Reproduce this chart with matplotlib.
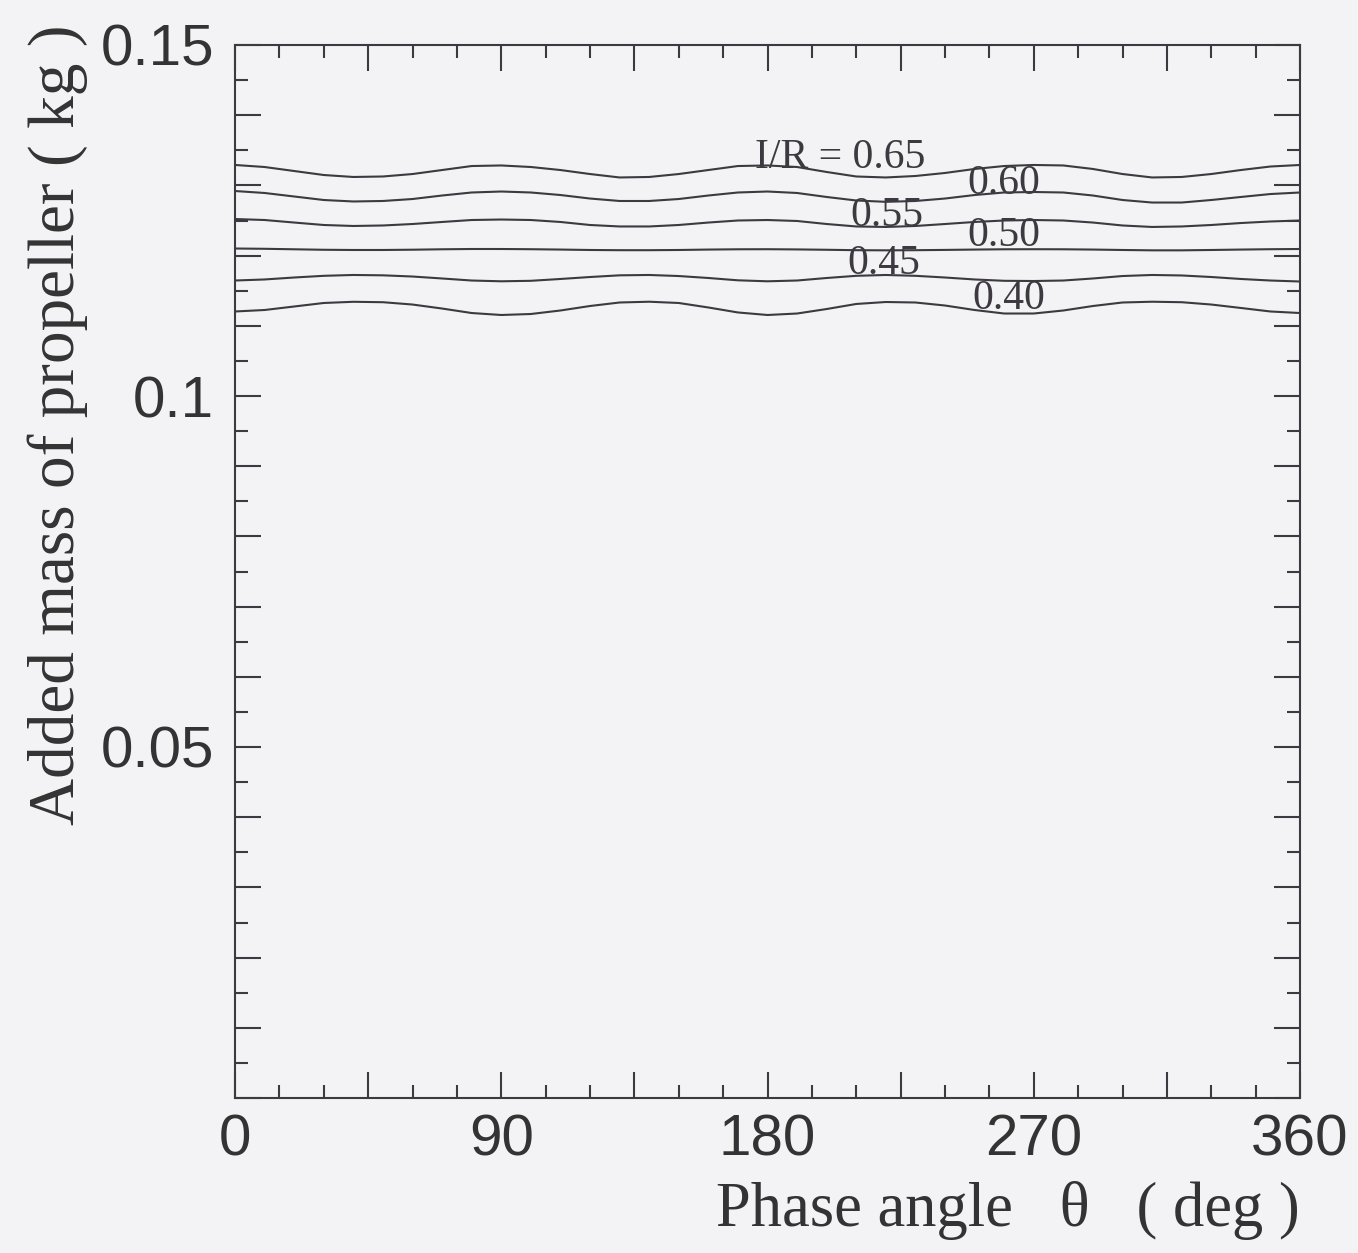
import matplotlib
matplotlib.use("Agg")
import matplotlib.pyplot as plt
from matplotlib.ticker import FixedLocator, FixedFormatter

# Phase angle (deg), sampled every 10 deg
theta = list(range(0, 361, 10))

# Added mass of propeller (kg) for each radial position I/R
mass_065 = [0.13291, 0.13262, 0.13205, 0.13148, 0.13120, 0.13127, 0.13162, 0.13219, 0.13276, 0.13284,
            0.13262, 0.13219, 0.13162, 0.13113, 0.13120, 0.13162, 0.13219, 0.13276, 0.13284, 0.13262,
            0.13191, 0.13127, 0.13113, 0.13134, 0.13177, 0.13234, 0.13276, 0.13291, 0.13284, 0.13234,
            0.13162, 0.13113, 0.13120, 0.13162, 0.13219, 0.13269, 0.13291]
mass_060 = [0.12920, 0.12892, 0.12842, 0.12792, 0.12771, 0.12778, 0.12806, 0.12856, 0.12899, 0.12913,
            0.12899, 0.12863, 0.12813, 0.12778, 0.12778, 0.12806, 0.12856, 0.12899, 0.12913, 0.12892,
            0.12835, 0.12785, 0.12766, 0.12778, 0.12813, 0.12863, 0.12899, 0.12906, 0.12899, 0.12856,
            0.12792, 0.12756, 0.12756, 0.12792, 0.12835, 0.12877, 0.12899]
mass_055 = [0.12521, 0.12507, 0.12471, 0.12436, 0.12422, 0.12429, 0.12450, 0.12479, 0.12507, 0.12514,
            0.12507, 0.12479, 0.12436, 0.12415, 0.12415, 0.12436, 0.12471, 0.12500, 0.12507, 0.12493,
            0.12450, 0.12415, 0.12408, 0.12422, 0.12450, 0.12479, 0.12500, 0.12507, 0.12500, 0.12471,
            0.12429, 0.12408, 0.12415, 0.12436, 0.12464, 0.12486, 0.12500]
mass_050 = [0.12101, 0.12097, 0.12090, 0.12083, 0.12080, 0.12080, 0.12084, 0.12090, 0.12094, 0.12094,
            0.12091, 0.12086, 0.12080, 0.12077, 0.12077, 0.12080, 0.12086, 0.12090, 0.12091, 0.12088,
            0.12083, 0.12077, 0.12075, 0.12077, 0.12081, 0.12086, 0.12090, 0.12091, 0.12090, 0.12086,
            0.12080, 0.12075, 0.12075, 0.12080, 0.12086, 0.12091, 0.12094]
mass_045 = [0.11645, 0.11660, 0.11688, 0.11712, 0.11724, 0.11719, 0.11702, 0.11674, 0.11645, 0.11634,
            0.11641, 0.11667, 0.11695, 0.11719, 0.11724, 0.11709, 0.11681, 0.11648, 0.11634, 0.11645,
            0.11681, 0.11712, 0.11724, 0.11712, 0.11688, 0.11660, 0.11641, 0.11638, 0.11645, 0.11674,
            0.11709, 0.11724, 0.11717, 0.11695, 0.11667, 0.11645, 0.11631]
mass_040 = [0.11204, 0.11225, 0.11275, 0.11325, 0.11342, 0.11336, 0.11303, 0.11246, 0.11182, 0.11154,
            0.11168, 0.11218, 0.11282, 0.11332, 0.11343, 0.11325, 0.11261, 0.11190, 0.11154, 0.11175,
            0.11239, 0.11311, 0.11339, 0.11332, 0.11289, 0.11225, 0.11175, 0.11175, 0.11218, 0.11282,
            0.11332, 0.11343, 0.11336, 0.11303, 0.11254, 0.11204, 0.11182]

series = [mass_065, mass_060, mass_055, mass_050, mass_045, mass_040]

# Curve annotations: text, phase angle, mass
curve_labels = ["I/R = 0.65", "0.60", "0.55", "0.50", "0.45", "0.40"]
label_theta = [175.8, 247.5, 207.9, 247.5, 206.9, 249.2]
label_mass = [0.1339, 0.1302, 0.12564, 0.12279, 0.1188, 0.11382]

x_major = [0, 45, 90, 135, 180, 225, 270, 315, 360]
x_tick_labels = ["0", "", "90", "", "180", "", "270", "", "360"]
x_minor = list(range(0, 361, 15))
y_tick_values = [0.05, 0.1, 0.15]
y_tick_labels = ["0.05", "0.1", "0.15"]

bg = "#f3f2f4"
ink = "#3c3a40"
serif = "Liberation Serif"
sans = "Liberation Sans"

fig = plt.figure(figsize=(13.58, 12.53), dpi=100, facecolor=bg)
ax = fig.add_axes([235 / 1358, 1 - 1098 / 1253, 1065 / 1358, 1053 / 1253])
ax.set_facecolor(bg)

for ys in series:
    ax.plot(theta, ys, color=ink, lw=1.5, solid_joinstyle="round")

for txt, tx, ty in zip(curve_labels, label_theta, label_mass):
    ax.text(tx, ty, txt, family=serif, fontsize=30, color=ink, ha="left", va="center")

ax.set_xlim(0, 360)
ax.set_ylim(0, 0.15)

ax.xaxis.set_major_locator(FixedLocator(x_major))
ax.xaxis.set_major_formatter(FixedFormatter(x_tick_labels))
ax.xaxis.set_minor_locator(FixedLocator(x_minor))

# y major ticks every 0.01 (labels only at 0.05 / 0.1 / 0.15), minor every 0.005
y_major = [round(0.01 * i, 2) for i in range(16)]
y_minor = [round(0.005 * i, 3) for i in range(31)]
ax.yaxis.set_major_locator(FixedLocator(y_major))
ax.yaxis.set_major_formatter(FixedFormatter(
    [y_tick_labels[y_tick_values.index(v)] if v in y_tick_values else "" for v in y_major]))
ax.yaxis.set_minor_locator(FixedLocator(y_minor))

ax.tick_params(which="both", direction="in", top=True, right=True, color=ink, width=1.5)
ax.tick_params(which="major", length=19, labelsize=42, labelcolor="#333333")
ax.tick_params(axis="y", which="major", pad=15)
ax.tick_params(axis="x", which="major", pad=11)
ax.tick_params(which="minor", length=9.5)
for lab in ax.get_xticklabels() + ax.get_yticklabels():
    lab.set_fontfamily(sans)

for sp in ax.spines.values():
    sp.set_color(ink)
    sp.set_linewidth(1.5)

ax.set_xlabel("Phase angle   θ   ( deg )", family=serif, fontsize=45, color="#333333",
              loc="right", labelpad=10)
fig.text(58 / 1358, 1 - 425 / 1253, "Added mass of propeller ( kg )", family=serif,
         fontsize=47, color="#333333", rotation=90, ha="center", va="center")

fig.savefig("out.png", dpi=100, facecolor=bg)
